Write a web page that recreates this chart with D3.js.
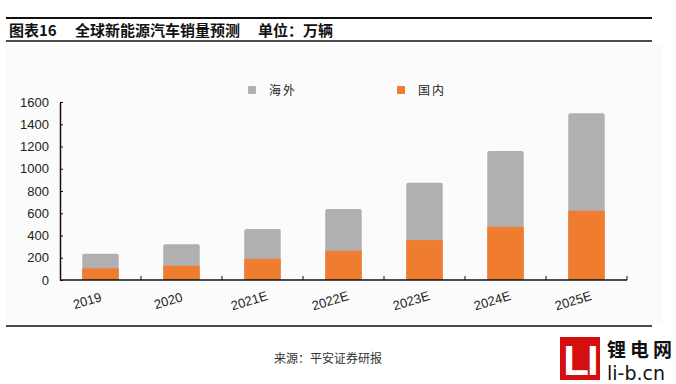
<!DOCTYPE html>
<html><head><meta charset="utf-8">
<script src="https://cdn.jsdelivr.net/npm/d3@7"></script>
<style>body{margin:0;background:#fff;}svg{display:block;}</style>
</head><body>
<svg id="c" width="676" height="384"></svg>
<script>
const categories = ["2019","2020","2021E","2022E","2023E","2024E","2025E"];
const domestic = [105, 128, 190, 262, 358, 478, 622];
const overseas = [130, 193, 268, 376, 517, 682, 876];
const seriesNames = ["海外","国内"];
const yTicks = [0,200,400,600,800,1000,1200,1400,1600];
const colors = {"海外":"#b0b0b2","国内":"#f07c2f"};

const svg = d3.select("#c");
const cjk = "'Noto Sans CJK SC', sans-serif";
const latin = "'Liberation Sans', Arial, sans-serif";

// background panel
svg.append("rect").attr("x",6).attr("y",44).attr("width",656).attr("height",278).attr("fill","#fbfbfc");

// title lines
svg.append("line").attr("x1",6).attr("x2",652).attr("y1",18).attr("y2",18).attr("stroke","#111").attr("stroke-width",2);
svg.append("line").attr("x1",6).attr("x2",652).attr("y1",41).attr("y2",41).attr("stroke","#111").attr("stroke-width",1.5);
svg.append("line").attr("x1",6).attr("x2",652).attr("y1",326).attr("y2",326).attr("stroke","#111").attr("stroke-width",1.5);
const titleParts = [{t:"图表16",x:9},{t:"全球新能源汽车销量预测",x:75},{t:"单位：万辆",x:258}];
titleParts.forEach(p=>{
  svg.append("text").attr("x",p.x).attr("y",36).attr("font-family",cjk).attr("font-weight","bold")
    .attr("font-size",15).attr("fill","#111").text(p.t);
});

const x = d3.scaleBand().domain(categories).range([60,627]).paddingInner(0.55).paddingOuter(0.275);
const y = d3.scaleLinear().domain([0,1600]).range([280,102]);

// bars
const g = svg.append("g");
categories.forEach((c,i)=>{
  const total = domestic[i]+overseas[i];
  g.append("rect").attr("x",x(c)).attr("width",x.bandwidth())
    .attr("y",y(total)).attr("height",y(0)-y(total)).attr("rx",2).attr("fill",colors["海外"]);
  g.append("rect").attr("x",x(c)).attr("width",x.bandwidth())
    .attr("y",y(domestic[i])).attr("height",y(0)-y(domestic[i])).attr("fill",colors["国内"]);
});

// y axis
const ya = svg.append("g").attr("transform","translate(60,0)")
  .call(d3.axisLeft(y).tickValues(yTicks).tickFormat(d3.format("d")).tickSizeInner(-3).tickSizeOuter(0).tickPadding(11));
ya.select(".domain").attr("stroke","#111").attr("stroke-width",1.5);
ya.selectAll(".tick line").attr("stroke","#111");
ya.selectAll("text").attr("font-family",latin).attr("font-size",13).attr("fill","#222");

// x axis
svg.append("line").attr("x1",60).attr("x2",627).attr("y1",280).attr("y2",280).attr("stroke","#111").attr("stroke-width",1.5);
const step = x.step();
d3.range(1,8).forEach(k=>{
  const xp = 60 + k*step;
  svg.append("line").attr("x1",xp).attr("x2",xp).attr("y1",280).attr("y2",276).attr("stroke","#111");
});
categories.forEach(c=>{
  const cx = x(c)+x.bandwidth()/2 - 12;
  svg.append("text").attr("transform",`translate(${cx},305) rotate(-17)`)
    .attr("text-anchor","middle").attr("font-family",latin).attr("font-size",13).attr("fill","#222").text(c);
});

// legend
const leg = [{n:"海外",x:248,tx:269},{n:"国内",x:397,tx:418}];
leg.forEach(l=>{
  svg.append("rect").attr("x",l.x).attr("y",86).attr("width",8).attr("height",8).attr("rx",1).attr("fill",colors[l.n]);
  svg.append("text").attr("x",l.tx).attr("y",95).attr("font-family",cjk).attr("font-size",12).attr("fill","#222")
    .attr("letter-spacing",2).text(l.n);
});

// source
svg.append("text").attr("x",274).attr("y",363).attr("font-family",cjk).attr("font-size",12).attr("fill","#333").text("来源：平安证券研报");

// logo
svg.append("rect").attr("x",560).attr("y",337).attr("width",40).attr("height",43).attr("fill","#d50f0f");
svg.append("text").attr("x",580).attr("y",375).attr("text-anchor","middle").attr("font-family",latin)
  .attr("font-weight","bold").attr("font-size",42).attr("fill","#fff").attr("letter-spacing",-2).text("LI");
svg.append("text").attr("x",607).attr("y",357).attr("font-family",cjk).attr("font-weight","bold")
  .attr("font-size",19).attr("fill","#111").attr("letter-spacing",4).text("锂电网");
svg.append("text").attr("x",607).attr("y",380).attr("font-family","'DejaVu Sans', sans-serif")
  .attr("font-size",19).attr("fill","#111").text("li-b.cn");
</script>
</body></html>
